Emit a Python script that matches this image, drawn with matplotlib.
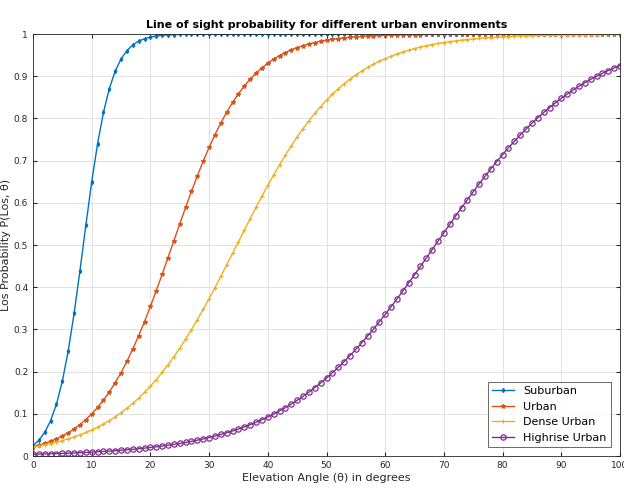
import matplotlib
matplotlib.use("Agg")
import matplotlib.pyplot as plt

angles = list(range(0, 101))

suburban = [0.0245,0.0372,0.0561,0.0837,0.1231,0.1775,0.2491,0.3377,0.4394,0.5464,
0.6494,0.7401,0.8140,0.8706,0.9118,0.9408,0.9607,0.9741,0.9830,0.9889,
0.9927,0.9953,0.9969,0.9980,0.9987,0.9991,0.9994,0.9996,0.9998,0.9998,
0.9999,0.9999,0.9999,0.9999,0.9999] + [1.0]*66

urban = [0.0219,0.0256,0.0299,0.0349,0.0407,0.0474,0.0552,0.0641,0.0744,0.0863,
0.0997,0.1150,0.1324,0.1519,0.1736,0.1978,0.2245,0.2535,0.2850,0.3187,
0.3544,0.3918,0.4305,0.4701,0.5101,0.5499,0.5892,0.6273,0.6639,0.6986,
0.7312,0.7615,0.7893,0.8147,0.8377,0.8583,0.8767,0.8929,0.9073,0.9199,
0.9309,0.9405,0.9489,0.9561,0.9624,0.9678,0.9724,0.9764,0.9798,0.9827,
0.9853,0.9874,0.9892,0.9908,0.9922,0.9933,0.9943,0.9951,0.9959,0.9965,
0.9970,0.9974,0.9978,0.9981,0.9984,0.9986,0.9988,0.9990,0.9992,0.9993,
0.9994,0.9995,0.9996,0.9996,0.9997,0.9997,0.9998,0.9998,0.9998,0.9999,
0.9999,0.9999,0.9999,0.9999,0.9999,0.9999,0.9999,0.9999,0.9999,0.9999] + [1.0]*11

dense_urban = [0.0214,0.0239,0.0266,0.0296,0.0329,0.0366,0.0407,0.0452,0.0502,0.0557,
0.0618,0.0685,0.0759,0.0839,0.0928,0.1025,0.1131,0.1246,0.1371,0.1506,
0.1653,0.1810,0.1979,0.2159,0.2351,0.2555,0.2770,0.2996,0.3232,0.3477,
0.3730,0.3990,0.4257,0.4529,0.4803,0.5078,0.5352,0.5624,0.5893,0.6157,
0.6413,0.6662,0.6902,0.7132,0.7352,0.7561,0.7758,0.7944,0.8117,0.8280,
0.8431,0.8571,0.8700,0.8820,0.8930,0.9030,0.9122,0.9207,0.9283,0.9353,
0.9417,0.9474,0.9527,0.9574,0.9617,0.9655,0.9690,0.9721,0.9750,0.9775,
0.9798,0.9819,0.9837,0.9854,0.9869,0.9882,0.9895,0.9905,0.9915,0.9924,
0.9932,0.9939,0.9945,0.9951,0.9956,0.9961,0.9965,0.9968,0.9972,0.9975,
0.9977,0.9980,0.9982,0.9984,0.9985,0.9987,0.9988,0.9989,0.9991,0.9992,0.9992]

highrise_urban = [0.00414,0.00448,0.00486,0.00526,0.00570,0.00617,0.00667,0.00722,0.00782,0.00847,
0.00917,0.00993,0.01074,0.01163,0.01258,0.01361,0.01473,0.01594,0.01725,0.01865,
0.02017,0.02182,0.02359,0.02550,0.02757,0.02980,0.03220,0.03478,0.03758,0.04058,
0.04380,0.04728,0.05102,0.05503,0.05935,0.06398,0.06893,0.07424,0.07994,0.08598,
0.09250,0.09943,0.1068,0.1147,0.1231,0.1320,0.1414,0.1514,0.1620,0.1731,
0.1849,0.1972,0.2102,0.2238,0.2380,0.2528,0.2682,0.2842,0.3007,0.3178,
0.3355,0.3535,0.3720,0.3908,0.4100,0.4295,0.4492,0.4690,0.4890,0.5090,
0.5290,0.5489,0.5686,0.5881,0.6073,0.6262,0.6447,0.6628,0.6805,0.6976,
0.7142,0.7303,0.7458,0.7606,0.7749,0.7885,0.8015,0.8140,0.8258,0.8370,
0.8476,0.8577,0.8672,0.8761,0.8845,0.8925,0.8999,0.9068,0.9134,0.9195,0.9253]

labels = ["Suburban", "Urban", "Dense Urban", "Highrise Urban"]
colors = ["#0072BD", "#D95319", "#EDB120", "#7E2F8E"]
markers = ["d", "*", "+", "o"]
msizes = [2.2, 3.2, 2.5, 3.8]

fig = plt.figure(figsize=(6.24, 4.9), dpi=100)
ax = fig.add_axes([33/624, 34/490, 587/624, 422/490])
for y, lab, c, m, ms in zip([suburban, urban, dense_urban, highrise_urban], labels, colors, markers, msizes):
    if m == "o":
        ax.plot(angles, y, color=c, marker=m, ms=ms, mfc="none", mew=0.9, lw=1, label=lab)
    else:
        ax.plot(angles, y, color=c, marker=m, ms=ms, mew=0.8, lw=1, label=lab)

ax.set_xlim(0, 100)
ax.set_ylim(0, 1)
ax.set_xticks(range(0, 101, 10))
ax.set_yticks([i/10 for i in range(11)])
ax.set_yticklabels(["0","0.1","0.2","0.3","0.4","0.5","0.6","0.7","0.8","0.9","1"])
ax.tick_params(direction="in", labelsize=6.5, top=True, right=True, length=3, colors="#262626")
ax.grid(True, color="#dddddd", lw=0.6)
for s in ax.spines.values():
    s.set_color("#262626"); s.set_linewidth(0.6)
ax.set_title("Line of sight probability for different urban environments", fontsize=8, fontweight="bold", pad=4)
ax.set_xlabel("Elevation Angle (θ) in degrees", fontsize=8, labelpad=2, color="#262626")
ax.set_ylabel("Los Probability P(Los, θ)", fontsize=8, labelpad=2, color="#262626")
leg = ax.legend(loc="lower right", fontsize=8, frameon=True, fancybox=False, edgecolor="#262626", borderaxespad=0.8)
leg.get_frame().set_linewidth(0.6)
fig.savefig("out.png", dpi=100)
